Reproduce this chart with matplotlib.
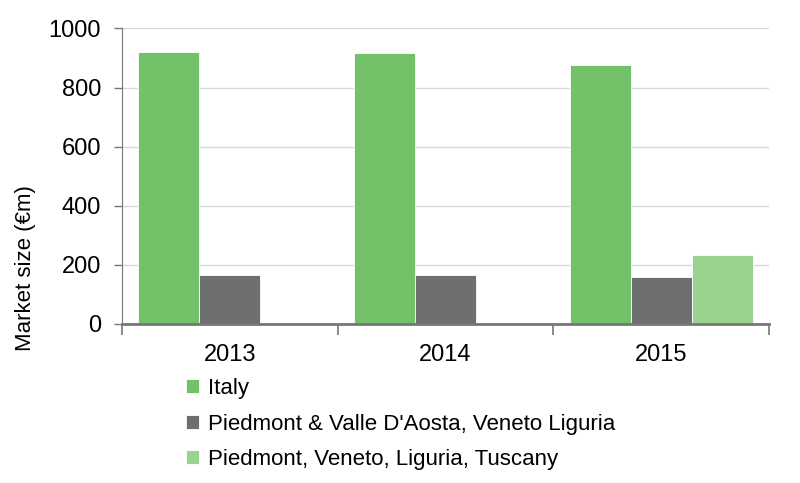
import matplotlib.pyplot as plt
import numpy as np

plt.rcParams['font.family'] = ['Liberation Sans', 'DejaVu Sans']

# data
years = ["2013", "2014", "2015"]
italy = [921, 917, 876]
piedmont_valle = [166, 166, 158]
piedmont_tuscany = [np.nan, np.nan, 232]

series_names = ["Italy", "Piedmont & Valle D'Aosta, Veneto Liguria",
                "Piedmont, Veneto, Liguria, Tuscany"]
colors = ["#73c168", "#6e6e6e", "#98d48e"]

fig = plt.figure(figsize=(8, 4.83), dpi=100)
ax = fig.add_axes([0.1525, 0.330, 0.809, 0.611])

x = np.arange(len(years))
w = 0.283
for i, (vals, c, name) in enumerate(zip([italy, piedmont_valle, piedmont_tuscany], colors, series_names)):
    ax.bar(x + (i - 1) * w, vals, w, color=c, edgecolor="white", linewidth=0.6,
           label=name, zorder=3)

ax.set_xlim(-0.5, 2.5)
ax.set_ylim(0, 1000)
ax.set_yticks(np.arange(0, 1001, 200))
ax.set_xticks(x)
ax.set_xticklabels(years)
ax.set_xticks([-0.5, 0.5, 1.5, 2.5], minor=True)
ax.tick_params(axis="x", which="major", length=0, labelsize=17, pad=15)
ax.tick_params(axis="x", which="minor", length=8, width=1.2, color="#777777")
ax.tick_params(axis="y", length=6, width=1, color="#777777", labelsize=17, pad=9)

ax.grid(axis="y", color="#d9d9d9", linewidth=1, zorder=0)
for s in ["top", "right"]:
    ax.spines[s].set_visible(False)
ax.spines["left"].set_color("#777777")
ax.spines["bottom"].set_color("#777777")
ax.spines["bottom"].set_linewidth(2)
ax.spines["bottom"].set_zorder(4)

ax.set_ylabel("Market size (€m)", fontsize=16)
ax.yaxis.set_label_coords(-0.133, 0.188)

ax.legend(loc="upper left", bbox_to_anchor=(0.085, -0.155), frameon=False,
          fontsize=16, handlelength=0.6, handleheight=0.6, handletextpad=0.4,
          labelspacing=0.65, borderaxespad=0)

fig.savefig("out.png", dpi=100)
